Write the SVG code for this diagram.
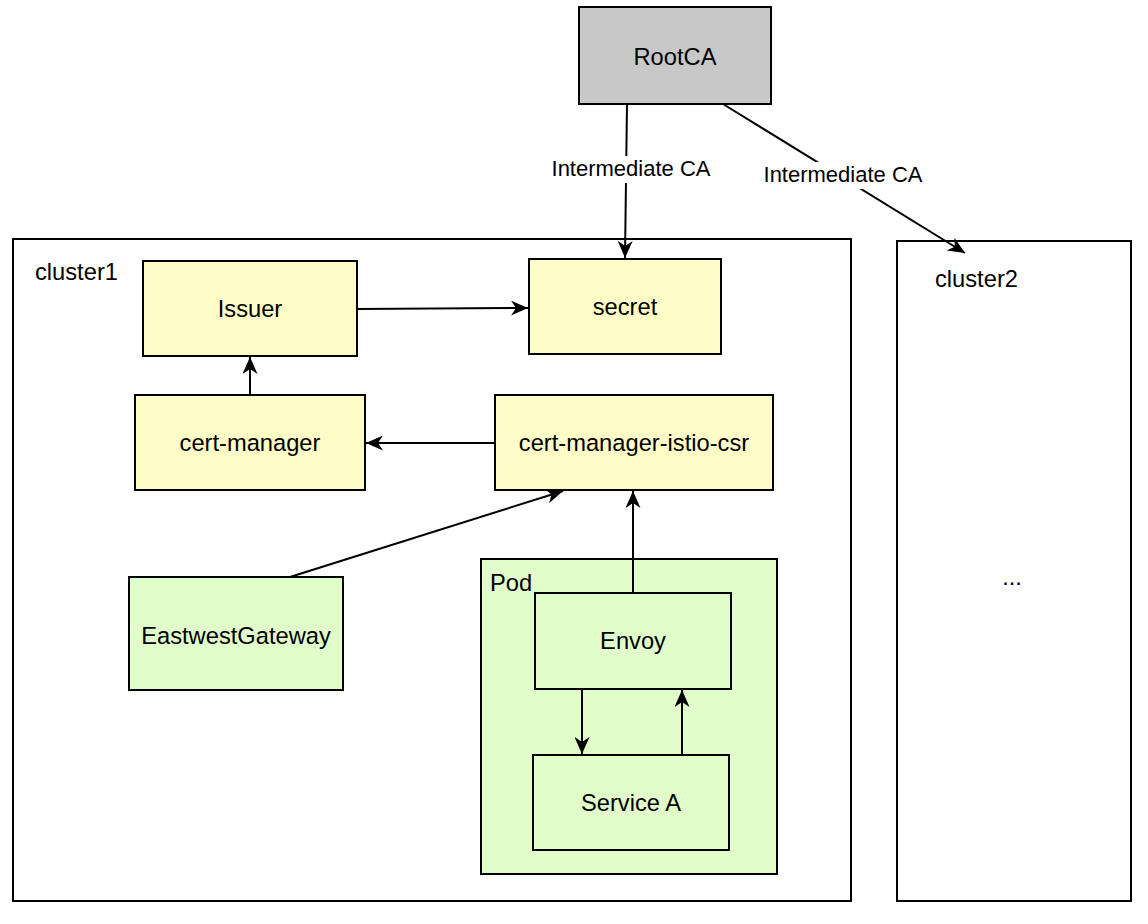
<svg xmlns="http://www.w3.org/2000/svg" width="1148" height="924" viewBox="0 0 1148 924">
<style>
.box{stroke:#000;stroke-width:2}
.yellow{fill:#fffdc7}
.green{fill:#e0fdca}
.grey{fill:#c8c8c8}
.white{fill:#fff}
text{font-family:"Liberation Sans",Arial,Helvetica,sans-serif;font-size:23.7px;fill:#000}
.c{text-anchor:middle}
.lbl{font-size:22px}
.edge{fill:none;stroke:#000;stroke-width:2}
</style>
<defs>
<marker id="arr" viewBox="0 0 17 15" refX="17" refY="7.5" markerWidth="17" markerHeight="15" markerUnits="userSpaceOnUse" orient="auto">
<path d="M0,0 L17,7.5 L0,15 L5,7.5 Z" fill="#000"/>
</marker>
</defs>
<rect width="1148" height="924" fill="#fff"/>
<g id="cluster1">
<rect class="box white" x="13" y="239" width="838" height="662"/>
<text x="35" y="280">cluster1</text>
</g>
<g id="cluster2">
<rect class="box white" x="897" y="241" width="234" height="660"/>
<text x="935" y="287">cluster2</text>
<text class="c" x="1012" y="585">...</text>
</g>
<g id="rootca">
<rect class="box grey" x="579" y="7" width="192" height="97"/>
<text class="c" x="675" y="65">RootCA</text>
</g>
<g id="issuer">
<rect class="box yellow" x="143" y="261" width="214" height="95"/>
<text class="c" x="250" y="317">Issuer</text>
</g>
<g id="secret">
<rect class="box yellow" x="529" y="259" width="192" height="95"/>
<text class="c" x="625" y="315">secret</text>
</g>
<g id="cert-manager">
<rect class="box yellow" x="135" y="395" width="230" height="95"/>
<text class="c" x="250" y="451">cert-manager</text>
</g>
<g id="istio-csr">
<rect class="box yellow" x="495" y="395" width="278" height="95"/>
<text class="c" x="634" y="451">cert-manager-istio-csr</text>
</g>
<g id="eastwest">
<rect class="box green" x="129" y="577" width="214" height="113"/>
<text class="c" x="236" y="644">EastwestGateway</text>
</g>
<g id="pod">
<rect class="box green" x="481" y="559" width="296" height="315"/>
<text x="490" y="591">Pod</text>
</g>
<g id="envoy">
<rect class="box green" x="535" y="593" width="196" height="96"/>
<text class="c" x="633" y="649">Envoy</text>
</g>
<g id="serviceA">
<rect class="box green" x="533" y="755" width="196" height="95"/>
<text class="c" x="631" y="811">Service A</text>
</g>
<g id="connectors">
<path class="edge" d="M627,104 L625,258" marker-end="url(#arr)"/>
<rect x="550" y="156" width="162" height="27" fill="#fff"/>
<text class="lbl c" x="631" y="176">Intermediate CA</text>
<path class="edge" d="M723,104 L965,253" marker-end="url(#arr)"/>
<rect x="762" y="162" width="162" height="27" fill="#fff"/>
<text class="lbl c" x="843" y="182">Intermediate CA</text>
<path class="edge" d="M357,309 L528,308" marker-end="url(#arr)"/>
<path class="edge" d="M250,395 L250,357" marker-end="url(#arr)"/>
<path class="edge" d="M495,443 L366,443" marker-end="url(#arr)"/>
<path class="edge" d="M290,577 L563,491" marker-end="url(#arr)"/>
<path class="edge" d="M633,593 L633,491" marker-end="url(#arr)"/>
<path class="edge" d="M582,689 L582,754" marker-end="url(#arr)"/>
<path class="edge" d="M682,755 L682,690" marker-end="url(#arr)"/>
</g>
</svg>
